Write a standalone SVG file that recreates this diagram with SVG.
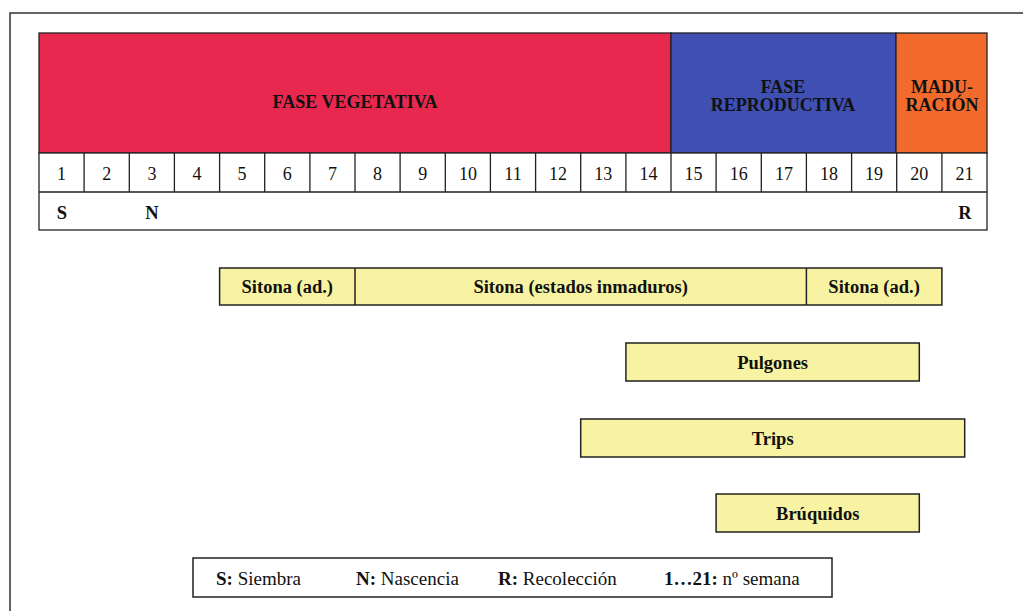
<svg xmlns="http://www.w3.org/2000/svg" width="1023" height="611" viewBox="0 0 1023 611">
<style>
text{font-family:"Liberation Serif","Times New Roman",serif;fill:#111}
.b{font-weight:bold}
.ph{font-size:18px;font-weight:bold;text-anchor:middle}
.num{font-size:18px;text-anchor:middle}
.bar{fill:#f8f3a2;stroke:#222;stroke-width:1.5}
.cell{fill:#fff;stroke:#222;stroke-width:1.3}
.lbl{font-size:18.5px;font-weight:bold;text-anchor:middle}
.leg{font-size:19px}
</style>
<rect width="1023" height="611" fill="#fff"/>
<g id="frame" fill="none" stroke="#333" stroke-width="1.5">
<path d="M10,611 V13 H1023"/>
</g>
<g id="phases">
<rect x="39" y="33" width="632" height="120" fill="#e8284f" stroke="#222" stroke-width="1.3"/>
<rect x="671" y="33" width="225" height="120" fill="#3f4fb2" stroke="#222" stroke-width="1.3"/>
<rect x="896" y="33" width="91" height="120" fill="#f26b2c" stroke="#222" stroke-width="1.3"/>
<text class="ph" x="355" y="108">FASE VEGETATIVA</text>
<text class="ph" x="783" y="93">FASE</text>
<text class="ph" x="783" y="111">REPRODUCTIVA</text>
<text class="ph" x="942" y="93">MADU-</text>
<text class="ph" x="942" y="111">RACIÓN</text>
</g>
<g id="weeks">
<rect class="cell" x="39" y="153" width="948" height="77"/>
<path d="M39,192 H987 M84.1,153 V192 M129.3,153 V192 M174.4,153 V192 M219.6,153 V192 M264.7,153 V192 M309.9,153 V192 M355,153 V192 M400.1,153 V192 M445.3,153 V192 M490.4,153 V192 M535.6,153 V192 M580.7,153 V192 M625.9,153 V192 M671,153 V192 M716.1,153 V192 M761.3,153 V192 M806.4,153 V192 M851.6,153 V192 M896.7,153 V192 M941.9,153 V192" stroke="#222" stroke-width="1.3" fill="none"/>
<text class="num" x="61.6" y="180">1</text>
<text class="num" x="106.7" y="180">2</text>
<text class="num" x="151.9" y="180">3</text>
<text class="num" x="197" y="180">4</text>
<text class="num" x="242.1" y="180">5</text>
<text class="num" x="287.3" y="180">6</text>
<text class="num" x="332.4" y="180">7</text>
<text class="num" x="377.6" y="180">8</text>
<text class="num" x="422.7" y="180">9</text>
<text class="num" x="467.9" y="180">10</text>
<text class="num" x="513" y="180">11</text>
<text class="num" x="558.1" y="180">12</text>
<text class="num" x="603.3" y="180">13</text>
<text class="num" x="648.4" y="180">14</text>
<text class="num" x="693.6" y="180">15</text>
<text class="num" x="738.7" y="180">16</text>
<text class="num" x="783.9" y="180">17</text>
<text class="num" x="829" y="180">18</text>
<text class="num" x="874.1" y="180">19</text>
<text class="num" x="919.3" y="180">20</text>
<text class="num" x="964.4" y="180">21</text>
<text class="lbl" x="62" y="219">S</text>
<text class="lbl" x="152" y="219">N</text>
<text class="lbl" x="965" y="219">R</text>
</g>
<g id="sitona">
<rect class="bar" x="219.6" y="268" width="722.3" height="37"/>
<path d="M355,268 V305 M806.4,268 V305" stroke="#222" stroke-width="1.5"/>
<text class="lbl" x="287.3" y="293">Sitona (ad.)</text>
<text class="lbl" x="580.7" y="293">Sitona (estados inmaduros)</text>
<text class="lbl" x="874.1" y="293">Sitona (ad.)</text>
</g>
<g id="pulgones">
<rect class="bar" x="625.9" y="343" width="293.4" height="38"/>
<text class="lbl" x="772.6" y="369">Pulgones</text>
</g>
<g id="trips">
<rect class="bar" x="580.7" y="419" width="384" height="38"/>
<text class="lbl" x="772.7" y="445">Trips</text>
</g>
<g id="bruquidos">
<rect class="bar" x="716.1" y="494" width="203.2" height="38"/>
<text class="lbl" x="817.7" y="520">Brúquidos</text>
</g>
<g id="legend">
<rect x="193" y="558" width="639" height="39" fill="#fff" stroke="#222" stroke-width="1.5"/>
<text class="leg" x="216" y="585"><tspan class="b">S:</tspan> Siembra</text>
<text class="leg" x="356" y="585"><tspan class="b">N:</tspan> Nascencia</text>
<text class="leg" x="498" y="585"><tspan class="b">R:</tspan> Recolección</text>
<text class="leg" x="664" y="585"><tspan class="b">1…21:</tspan> nº semana</text>
</g>
<g id="connectors"/>
</svg>
